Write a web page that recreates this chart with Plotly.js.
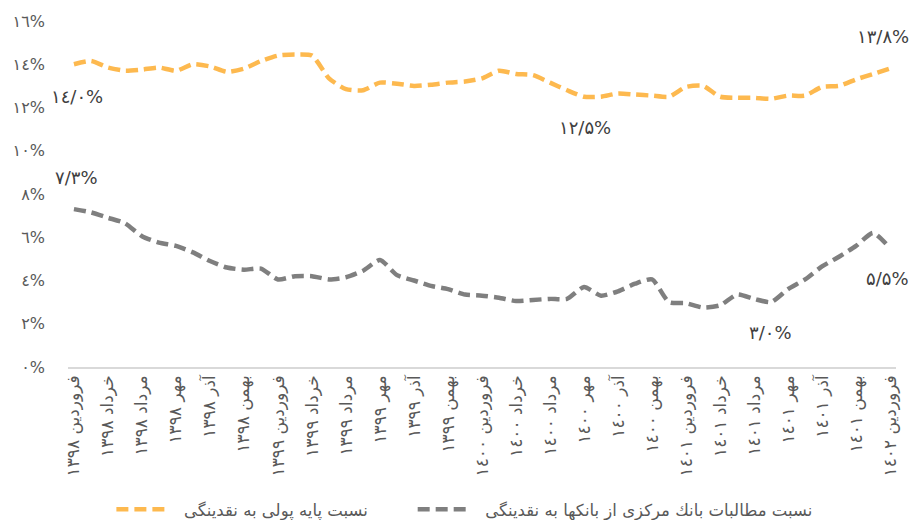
<!DOCTYPE html>
<html>
<head>
<meta charset="utf-8">
<script src="https://cdn.plot.ly/plotly-3.0.1.min.js"></script>
<style>html,body{margin:0;padding:0;background:#fff;}#chart{width:913px;height:520px;}</style>
</head>
<body>
<div id="chart"></div>
<script>
// 49 monthly observations, Farvardin 1398 .. Farvardin 1402
const monthNames = ["فروردین","اردیبهشت","خرداد","تیر","مرداد","شهریور","مهر","آبان","آذر","دی","بهمن","اسفند"];
const years = ["١٣٩٨","١٣٩٩","١٤٠٠","١٤٠١","١٤٠٢"];
const categories = [];
for (let y = 0; y < years.length; y++) {
  for (let m = 0; m < 12; m++) {
    if (categories.length < 49) categories.push(monthNames[m] + " " + years[y]);
  }
}
// Every other month is labelled on the axis
const tickLabels = [
  "فروردین ١٣٩٨","خرداد ١٣٩٨","مرداد ١٣٩٨","مهر ١٣٩٨","آذر ١٣٩٨","بهمن ١٣٩٨",
  "فروردین ١٣٩٩","خرداد ١٣٩٩","مرداد ١٣٩٩","مهر ١٣٩٩","آذر ١٣٩٩","بهمن ١٣٩٩",
  "فروردین ١٤٠٠","خرداد ١٤٠٠","مرداد ١٤٠٠","مهر ١٤٠٠","آذر ١٤٠٠","بهمن ١٤٠٠",
  "فروردین ١٤٠١","خرداد ١٤٠١","مرداد ١٤٠١","مهر ١٤٠١","آذر ١٤٠١","بهمن ١٤٠١",
  "فروردین ١٤٠٢"
];
const tickCats = categories.filter((c, i) => i % 2 === 0);

// Monetary base / liquidity (%)
const baseToLiquidity = [
  14.0,14.15,13.85,13.7,13.75,13.85,13.7,14.0,13.9,13.65,13.8,14.15,14.4,14.45,14.4,13.35,
  12.85,12.8,13.15,13.1,13.0,13.05,13.15,13.2,13.35,13.7,13.55,13.5,13.15,12.8,12.5,12.5,
  12.65,12.6,12.55,12.5,12.95,13.0,12.5,12.45,12.45,12.4,12.55,12.55,12.95,13.0,13.3,13.55,13.8
];
// CBI claims on banks / liquidity (%)
const claimsToLiquidity = [
  7.3,7.15,6.9,6.65,6.05,5.75,5.6,5.3,4.9,4.6,4.5,4.55,4.05,4.2,4.2,4.05,
  4.15,4.45,4.95,4.25,4.0,3.75,3.6,3.35,3.3,3.2,3.05,3.1,3.15,3.15,3.7,3.3,
  3.5,3.85,4.05,3.0,2.95,2.75,2.85,3.35,3.15,3.0,3.6,4.05,4.65,5.1,5.6,6.2,5.5
];
const seriesNames = ["نسبت پایه پولی به نقدینگی","نسبت مطالبات بانك مرکزی از بانکها به نقدینگی"];
const yTickVals = [0,2,4,6,8,10,12,14,16];
const yTickText = ["٠%","٢%","٤%","٦%","٨%","١٠%","١٢%","١٤%","١٦%"];
// Labelled points: [series, index, xshift, yshift]
const labelPoints = [[0,0,3,-32],[0,30,1,-31],[0,48,-7,32],[1,0,3,32],[1,41,-1,-30],[1,48,-3,-30]];

const digitMap = {"0":"٠","1":"١","2":"٢","3":"٣","4":"٤","5":"۵","6":"٦","7":"٧","8":"٨","9":"٩",".":"/"};
const fa = s => s.split("").map(c => digitMap[c] || c).join("");
const seriesData = [baseToLiquidity, claimsToLiquidity];

const FONT = "DejaVu Sans, Noto Sans, sans-serif";
const traces = [
  {x: categories, y: baseToLiquidity, name: "\u00a0\u00a0" + seriesNames[0], type: "scatter", mode: "lines",
   legend: "legend",
   line: {color: "#FDB94F", width: 4.5, dash: "12px,6px", shape: "spline", smoothing: 0.6}},
  {x: categories, y: claimsToLiquidity, name: "\u00a0\u00a0" + seriesNames[1], type: "scatter", mode: "lines",
   legend: "legend2",
   line: {color: "#7F7F7F", width: 4.5, dash: "12px,6px", shape: "spline", smoothing: 0.6}}
];
const annotations = labelPoints.map(([s, i, xs, ys]) => ({
  x: categories[i], y: seriesData[s][i], xref: "x", yref: "y",
  text: fa(seriesData[s][i].toFixed(1)) + "%", showarrow: false,
  xshift: xs, yshift: ys, font: {family: FONT, size: 18, color: "#404040"}
}));

const legendBase = {orientation: "h", xref: "container", yref: "container", xanchor: "left", y: 0.02, yanchor: "middle",
                    font: {family: FONT, size: 16.5, color: "#595959"}, itemwidth: 52, bgcolor: "rgba(0,0,0,0)"};
const layout = {
  width: 913, height: 520,
  margin: {l: 68, r: 17, t: 21, b: 153, autoexpand: false},
  paper_bgcolor: "#fff", plot_bgcolor: "#fff",
  showlegend: true,
  legend: Object.assign({}, legendBase, {x: 0.122}),
  legend2: Object.assign({}, legendBase, {x: 0.452}),
  xaxis: {type: "category", range: [-0.35, 48.35], tickmode: "array", tickvals: tickCats, ticktext: tickLabels,
          tickangle: -90, showgrid: false, zeroline: false, showline: true, linecolor: "#D9D9D9", linewidth: 1.5,
          ticks: "", automargin: false, tickfont: {family: FONT, size: 17, color: "#595959"}, fixedrange: true},
  yaxis: {range: [0, 16], tickmode: "array", tickvals: yTickVals, ticktext: yTickText, showgrid: false,
          zeroline: false, showline: false, ticks: "", ticklabelstandoff: 22, automargin: false,
          tickfont: {family: FONT, size: 16, color: "#595959"}, fixedrange: true},
  annotations: annotations
};
Plotly.newPlot("chart", traces, layout, {displayModeBar: false, staticPlot: true});
</script>
</body>
</html>
